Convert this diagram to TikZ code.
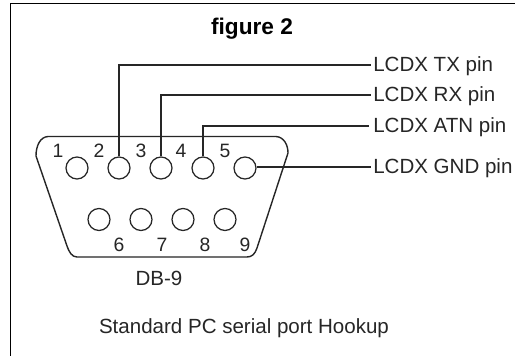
\documentclass[tikz,border=0pt]{standalone}
\usepackage{fontspec}
\setmainfont{Liberation Sans}
\begin{document}
\begin{tikzpicture}[x=0.75pt,y=-0.75pt,
  wire/.style={line width=1.05pt,draw=black!85,line join=miter},
  pin/.style={circle,draw=black!85,line width=0.95pt,minimum size=16.5pt,inner sep=0pt},
  num/.style={inner sep=0pt,font=\fontsize{14.5}{14.5}\selectfont,text=black!85},
  lbl/.style={inner sep=0pt,anchor=west,font=\fontsize{15.4}{15.4}\selectfont,text=black!85},
  captext/.style={inner sep=0pt,font=\fontsize{15.4}{15.4}\selectfont,text=black!85}]
\useasboundingbox (0,0) rectangle (515,356);
\fill[white] (0,0) rectangle (515,356);
\draw[line width=0.75pt,black] (10.5,356) -- (10.5,3.5) -- (515,3.5);
\node[inner sep=0pt,font=\fontsize{17}{17}\selectfont\bfseries] (title) at (252,28.5) {figure 2};
% shell
\draw[wire] (48,136.5) -- (276,136.5) .. controls (284,137) and (288,145) .. (288,153)
  -- (257,248) .. controls (255,254) and (252,257) .. (247,257)
  -- (77,257) .. controls (72,257) and (69,252) .. (67,246)
  -- (36,156) .. controls (36,146) and (40,137) .. (48,136.5) -- cycle;
% pins
\foreach \n/\x in {p1/77,p2/119,p3/161,p4/203,p5/245}
  \node[pin] (\n) at (\x,168) {};
\foreach \n/\x in {p6/99,p7/141,p8/183,p9/225}
  \node[pin] (\n) at (\x,219.5) {};
% numbers
\foreach \n/\t/\x in {n1/1/58,n2/2/99,n3/3/141,n4/4/181,n5/5/225}
  \node[num] (\n) at (\x,150.5) {\t};
\foreach \n/\t/\x in {n6/6/119,n7/7/162,n8/8/205,n9/9/245}
  \node[num] (\n) at (\x,244.5) {\t};
% labels
\node[lbl] (tx) at (373,66) {LCDX TX pin};
\node[lbl] (rx) at (373,96) {LCDX RX pin};
\node[lbl] (atn) at (373,127) {LCDX ATN pin};
\node[lbl] (gnd) at (373,168) {LCDX GND pin};
\node[captext] (db) at (159,278.5) {DB-9};
\node[captext] (std) at (244,328.5) {Standard PC serial port Hookup};
% wires
\draw[wire] (p2.north) |- ([xshift=-1.5pt,yshift=0.75pt]tx.west);
\draw[wire] (p3.north) |- ([xshift=-1.5pt,yshift=0.75pt]rx.west);
\draw[wire] (p4.north) |- ([xshift=-3pt,yshift=0.75pt]atn.west);
\draw[wire] ([yshift=0.6pt]p5.east) -- ([xshift=-1.5pt,yshift=0.6pt]gnd.west);
\end{tikzpicture}
\end{document}
